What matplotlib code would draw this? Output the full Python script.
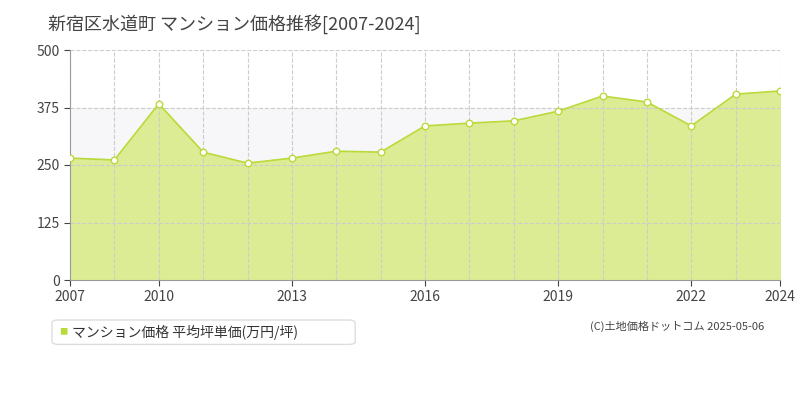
import matplotlib
matplotlib.use("Agg")
import matplotlib.pyplot as plt
from matplotlib.patches import FancyBboxPatch
plt.rcParams['font.family'] = ['Noto Sans CJK JP', 'DejaVu Sans']

years = [2007, 2009, 2010, 2011, 2012, 2013, 2014, 2015, 2016, 2017, 2018, 2019, 2020, 2021, 2022, 2023, 2024]
prices = [265, 261, 383, 278, 254, 265, 280, 278, 335, 341, 346, 367, 400, 387, 335, 404, 411]
tick_years = [2007, 2010, 2013, 2016, 2019, 2022, 2024]
yticks = [0, 125, 250, 375, 500]

fig = plt.figure(figsize=(8, 4), dpi=100)
ax = fig.add_axes([0.0875, 0.30, 0.8875, 0.575])
xs = list(range(len(years)))
ax.axhspan(250, 375, color='#f7f7f9', zorder=0)
ax.fill_between(xs, prices, 0, color='#dcec94', zorder=1)
ax.plot(xs, prices, color='#bada3c', lw=1.2, zorder=3)
ax.scatter(xs, prices, s=22, facecolor='white', edgecolor='#bada3c', lw=1, zorder=4)
for x in xs:
    ax.axvline(x, color='#cccccc', ls='--', lw=0.8, zorder=2)
for y in yticks[1:]:
    ax.axhline(y, color='#cccccc', ls='--', lw=0.8, zorder=2)
ax.set_xlim(0, len(years) - 1)
ax.set_ylim(0, 500)
ax.set_yticks(yticks)
ax.set_xticks([years.index(t) for t in tick_years])
ax.set_xticklabels([str(t) for t in tick_years])
for s in ['top', 'right']:
    ax.spines[s].set_visible(False)
ax.spines['left'].set_color('#999999')
ax.spines['bottom'].set_color('#999999')
ax.tick_params(colors='#444444', labelsize=10, length=4)
fig.text(0.06, 0.94, '新宿区水道町 マンション価格推移[2007-2024]', fontsize=13, color='#444444', va='center')
fig.patches.append(FancyBboxPatch((0.068, 0.142), 0.373, 0.055, boxstyle='round,pad=0.003,rounding_size=0.008',
                                  transform=fig.transFigure, fc='white', ec='#dddddd', lw=1))
fig.text(0.074, 0.17, '■', color='#bada3c', fontsize=6, va='center')
fig.text(0.09, 0.17, 'マンション価格 平均坪単価(万円/坪)', fontsize=10, color='#333333', va='center')
fig.text(0.955, 0.185, '(C)土地価格ドットコム 2025-05-06', fontsize=8, color='#444444', ha='right', va='center')
fig.savefig('out.png')
